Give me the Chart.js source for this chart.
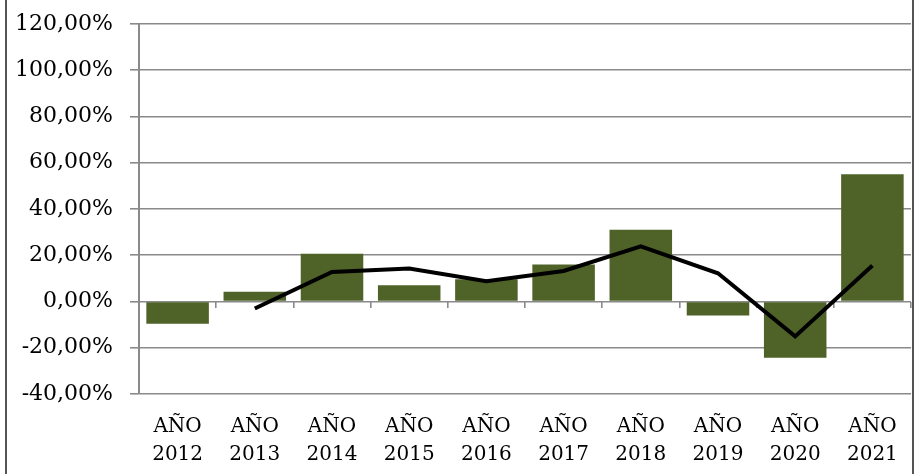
<!DOCTYPE html>
<html>
<head>
<meta charset="utf-8">
<script src="https://cdn.jsdelivr.net/npm/chart.js@4"></script>
<style>
  body { margin: 0; background: #fff; }
  #wrap { position: relative; width: 915px; height: 474px; }
  #frameL, #frameR { position: absolute; top: 0; bottom: 0; width: 2px; background: #555; }
  #frameL { left: 5px; }
  #frameR { left: 912px; }
</style>
</head>
<body>
<div id="wrap">
  <canvas id="chartVar" width="915" height="474"></canvas>
  <div id="frameL"></div>
  <div id="frameR"></div>
</div>
<script>
const chartVar = document.getElementById("chartVar");

// Categories (two-line labels)
const years = ["2012", "2013", "2014", "2015", "2016", "2017", "2018", "2019", "2020", "2021"];
const labels = years.map(y => ["AÑO", y]);

// Bars: yearly variation (%)
const barValues = [-9.6, 4.2, 20.6, 7.0, 9.6, 16.0, 31.0, -6.1, -24.3, 55.0];

// Line: second series (%), no value for 2012
const lineValues = [null, -3.0, 12.8, 14.3, 8.8, 13.2, 23.8, 12.2, -15.1, 15.6];

// Y axis ticks
const yMin = -40;
const yMax = 120;
const yStep = 20;

const serif = "'DejaVu Serif', 'Liberation Serif', serif";
const gridGray = "#8a8a8a";

new Chart(chartVar, {
  type: "bar",
  data: {
    labels: labels,
    datasets: [{
      type: "line",
      label: "Línea",
      data: lineValues,
      borderColor: "#000",
      borderWidth: 4,
      pointRadius: 0,
      tension: 0,
      fill: false,
      order: 0
    },
    {
      type: "bar",
      label: "Barras",
      data: barValues,
      backgroundColor: "#4F6228",
      borderWidth: 0,
      barPercentage: 0.81,
      categoryPercentage: 1,
      order: 1
    }]
  },
  options: {
    responsive: false,
    animation: false,
    layout: {
      padding: { left: 0, right: 4, top: 24, bottom: 0 }
    },
    plugins: {
      legend: { display: false },
      tooltip: { enabled: false }
    },
    scales: {
      y: {
        min: yMin,
        max: yMax,
        ticks: {
          stepSize: yStep,
          padding: 17,
          color: "#000",
          font: { family: serif, size: 22 },
          callback: v => v.toFixed(2).replace(".", ",") + "%"
        },
        grid: {
          color: gridGray,
          lineWidth: 1.6,
          tickLength: 9
        },
        border: { color: gridGray, width: 2 },
        afterFit: scale => {
          scale.width = 139;
          // the tick padding would otherwise be added above the top label
          scale.paddingTop = 0;
          scale.paddingBottom = 0;
        }
      },
      x: {
        grid: { display: false },
        border: { display: false },
        ticks: {
          padding: 11,
          color: "#000",
          maxRotation: 0,
          font: { family: serif, size: 20, lineHeight: 1.4 }
        },
        afterFit: scale => { scale.height = 80; }
      },
      x2: {
        type: "category",
        position: { y: 0 },
        grid: {
          offset: true,
          drawOnChartArea: false,
          color: gridGray,
          lineWidth: 1.6,
          tickLength: 6
        },
        border: { display: false },
        ticks: { display: false }
      }
    }
  }
});
</script>
</body>
</html>
